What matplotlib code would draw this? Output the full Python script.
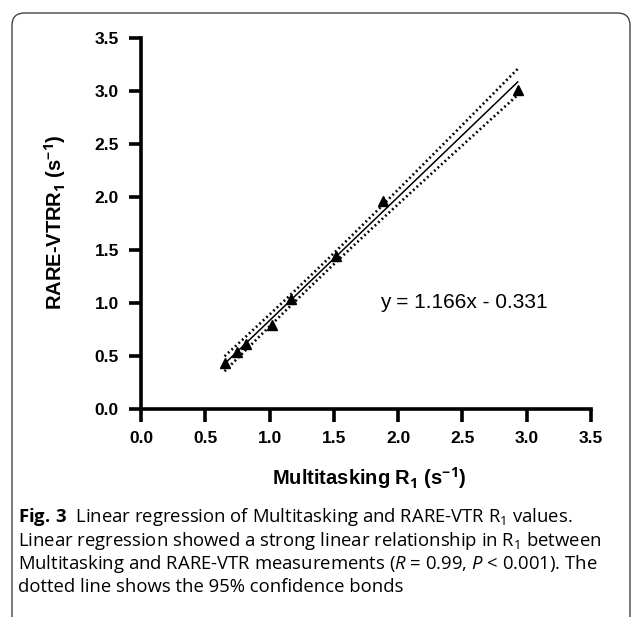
import numpy as np
import matplotlib.pyplot as plt
from matplotlib.patches import FancyBboxPatch

# Datos
multitasking_r1 = [0.65, 0.75, 0.82, 1.02, 1.17, 1.52, 1.88, 2.93]
rare_vtr_r1 = [0.43, 0.54, 0.61, 0.79, 1.04, 1.44, 1.96, 3.01]
pendiente = 1.166
ordenada = -0.331
ticks = [0.0, 0.5, 1.0, 1.5, 2.0, 2.5, 3.0, 3.5]
tick_labels = ["0.0", "0.5", "1.0", "1.5", "2.0", "2.5", "3.0", "3.5"]
T_95 = 2.447  # t de Student, 6 grados de libertad

pie = [
    r"$\mathbf{Fig.\,3}$  Linear regression of Multitasking and RARE-VTR R$_1$ values.",
    r"Linear regression showed a strong linear relationship in R$_1$ between",
    r"Multitasking and RARE-VTR measurements ($\mathit{R}$ = 0.99, $\mathit{P}$ < 0.001). The",
    r"dotted line shows the 95% confidence bonds",
]

plt.rcParams["mathtext.fontset"] = "custom"
plt.rcParams["mathtext.rm"] = "Open Sans"
plt.rcParams["mathtext.it"] = "Open Sans:italic"
plt.rcParams["mathtext.bf"] = "Open Sans:bold"

W, H = 636, 617
fig = plt.figure(figsize=(W / 100, H / 100), dpi=100)
ax = fig.add_axes([141 / W, 1 - 409 / H, 450 / W, 371 / H])

# recta de regresion y banda de confianza del 95 %
x = np.array(multitasking_r1)
y = np.array(rare_vtr_r1)
xs = np.linspace(x.min(), x.max(), 200)
ys = pendiente * xs + ordenada
res = y - (pendiente * x + ordenada)
s = np.sqrt(np.sum(res ** 2) / (len(x) - 2))
sxx = np.sum((x - x.mean()) ** 2)
half = T_95 * s * np.sqrt(1 / len(x) + (xs - x.mean()) ** 2 / sxx)

ax.plot(xs, ys, color="black", lw=1.1)
ax.plot(xs, ys + half, color="black", lw=1.9, linestyle=(0, (0.7, 1.1)))
ax.plot(xs, ys - half, color="black", lw=1.9, linestyle=(0, (0.7, 1.1)))
ax.plot(x, y, "^", color="black", markersize=6.5, clip_on=False)

ax.set_xlim(0, 3.5)
ax.set_ylim(0, 3.5)
ax.set_xticks(ticks)
ax.set_yticks(ticks)
ax.set_xticklabels(tick_labels, fontfamily="Liberation Sans", fontweight="bold", fontsize=12.5)
ax.set_yticklabels(tick_labels, fontfamily="Liberation Sans", fontweight="bold", fontsize=12.5)
ax.tick_params(direction="out", length=9, width=2.6, pad=7)
for lado in ["top", "right"]:
    ax.spines[lado].set_visible(False)
for lado in ["left", "bottom"]:
    ax.spines[lado].set_linewidth(2.6)

ax.text(1.86, 1.0, "y = 1.166x - 0.331", fontfamily="Liberation Sans", fontsize=15,
        ha="left", va="center")

# etiquetas de los ejes
fig.text(369 / W, 1 - 478 / H, r"Multitasking R$_\mathbf{1}$ (s$^\mathbf{-1}$)",
         fontfamily="Liberation Sans", fontweight="bold", fontsize=14.5, ha="center", va="center")
fig.text(55 / W, 1 - 222 / H, r"RARE-VTRR$_\mathbf{1}$ (s$^\mathbf{-1}$)",
         fontfamily="Liberation Sans", fontweight="bold", fontsize=14.5, ha="center", va="center",
         rotation=90)

# pie de figura
for i, linea in enumerate(pie):
    fig.text(18 / W, 1 - (517 + 23.5 * i) / H, linea, fontfamily="Open Sans", fontsize=13.3,
             ha="left", va="center")

# marco redondeado
marco = FancyBboxPatch((12 / W, -20 / H), 618 / W, (H - 13 + 20) / H,
                       boxstyle="round,pad=0,rounding_size=0.02", transform=fig.transFigure,
                       facecolor="none", edgecolor="#444444", lw=1.0, clip_on=False)
fig.patches.append(marco)

fig.savefig("out.png", dpi=100)
